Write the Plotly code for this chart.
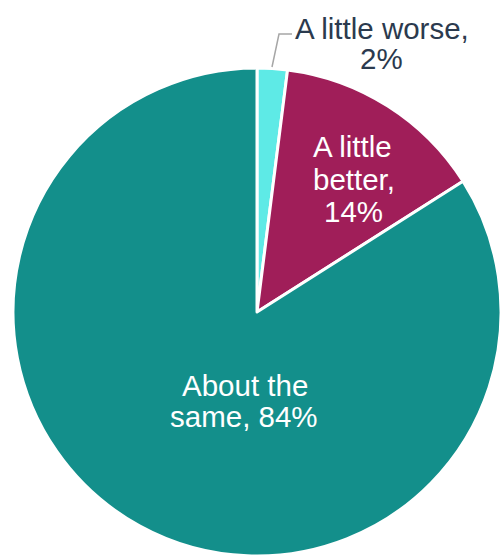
import plotly.graph_objects as go

labels = ["A little worse", "A little better", "About the same"]
values = [2, 14, 84]
colors = ["#5EEAE6", "#A01E59", "#138F8B"]
label_lines = [["A little worse,", "2%"], ["A little", "better,", "14%"], ["About the", "same, 84%"]]

W, H = 505, 560
cx, cy, r = 257, 312, 244

fig = go.Figure(go.Pie(
    labels=labels, values=values, sort=False, direction="clockwise", rotation=0,
    marker=dict(colors=colors, line=dict(color="white", width=3)),
    textinfo="none", hoverinfo="label+percent", showlegend=False,
    domain=dict(x=[(cx - r) / W, (cx + r) / W], y=[(H - cy - r) / H, (H - cy + r) / H]),
))

def px(x, y):
    return x / W, 1 - y / H

line_pos = [
    [(381.5, 28), (381, 59)],
    [(352.5, 147), (354, 179), (353.5, 211)],
    [(244.5, 385), (244, 416)],
]
text_colors = ["#2B3A4E", "white", "white"]
ann = []
for lines, pos, col in zip(label_lines, line_pos, text_colors):
    for t, (x, y) in zip(lines, pos):
        ax_, ay_ = px(x, y)
        ann.append(dict(text=t, x=ax_, y=ay_, xref="paper", yref="paper", showarrow=False,
                        xanchor="center", yanchor="middle",
                        font=dict(family="Liberation Sans, Arial, sans-serif", size=29.5, color=col)))

x0, y0 = px(272, 67)
x1, y1 = px(279, 34)
x2, y2 = px(292, 34)
fig.add_shape(type="path", xref="paper", yref="paper",
              path=f"M {x0} {y0} L {x1} {y1} L {x2} {y2}",
              line=dict(color="#A6A6A6", width=1.5))

fig.update_layout(width=W, height=H, autosize=False, margin=dict(l=0, r=0, t=0, b=0),
                  paper_bgcolor="white", plot_bgcolor="white", annotations=ann)
fig.write_html("out.html", config={"displayModeBar": False},
               post_script="document.body.style.margin='0';document.body.style.overflow='hidden';document.documentElement.style.overflow='hidden';")
